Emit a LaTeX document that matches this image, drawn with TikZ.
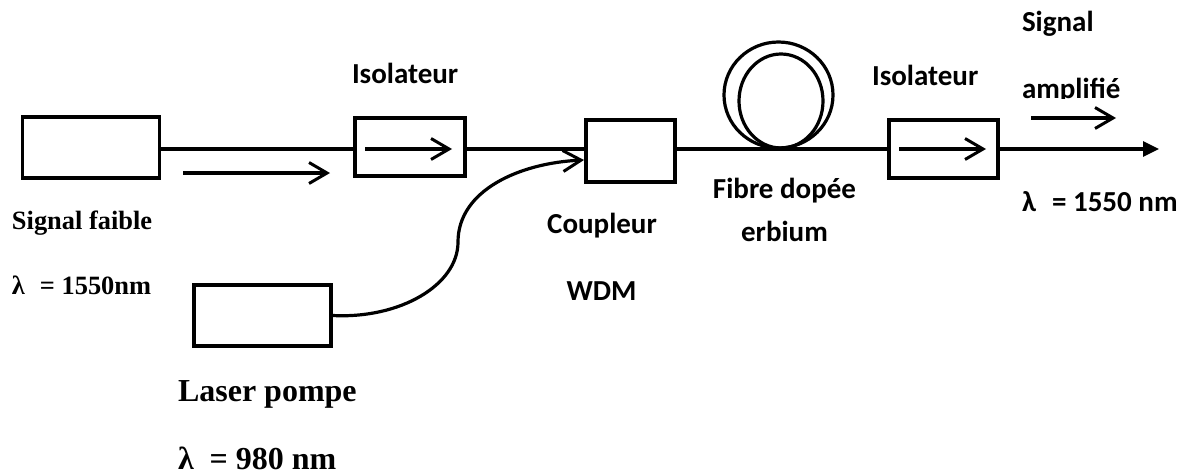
\documentclass[tikz,border=0pt]{standalone}
\usepackage{fontspec}
\setmainfont{Liberation Serif}
\newfontfamily\carlitofont{Carlito}
\usetikzlibrary{arrows.meta, shapes.geometric}

\tikzset{
  block/.style={draw, rectangle, inner sep=0pt},
  coil/.style={draw, ellipse, inner sep=0pt},
  barb/.style={-{Straight Barb[length=18pt,width=21pt,line width=3pt]}},
  label/.style={anchor=base west, inner sep=0pt, outer sep=0pt},
  midlabel/.style={anchor=base, inner sep=0pt, outer sep=0pt},
  calibri/.style={font=\carlitofont\fontsize{29}{34}\selectfont\bfseries},
  timesa/.style={font=\fontsize{26.4}{30}\selectfont\bfseries},
  timesb/.style={font=\fontsize{32}{36}\selectfont\bfseries}
}

\begin{document}
\begin{tikzpicture}[x=1pt,y=-1pt,line width=3.2pt]
    \useasboundingbox (0,0) rectangle (1183,474);

    \coordinate (axis) at (0,149);

    \node[block, minimum width=137, minimum height=61] (signal)  at (91,147.5) {};
    \node[block, minimum width=110, minimum height=58] (iso1)    at (410,147)  {};
    \node[block, minimum width=89,  minimum height=62] (wdm)     at (630.5,151) {};
    \node[block, minimum width=109, minimum height=58] (iso2)    at (943.5,149) {};
    \node[block, minimum width=137, minimum height=61] (pump)    at (262.5,315.5) {};
    \node[coil, minimum width=109, minimum height=106] (coilout) at (778.5,95) {};
    \node[coil, minimum width=84,  minimum height=94]  (coilin)  at (781,101) {};

    \coordinate (out)  at (1159,149);
    \coordinate (fa)   at (183,173);
    \coordinate (fb)   at (330,173);
    \coordinate (ia)   at (365,149);
    \coordinate (ib)   at (452,149);
    \coordinate (ja)   at (899,149);
    \coordinate (jb)   at (986,149);
    \coordinate (ka)   at (1031,118);
    \coordinate (kb)   at (1116,118);
    \coordinate (bend) at (458,242);
    \coordinate (pin)  at (584,160);

    \draw (signal.east |- axis) -- (iso1.west |- axis);
    \draw (iso1.east |- axis) -- (wdm.west |- axis);
    \draw (wdm.east |- axis) -- (iso2.west |- axis);
    \draw[-{Triangle[length=16pt,width=15pt]}] (iso2.east |- axis) -- (out);

    \draw[barb] (fa) -- (fb);
    \draw[barb] (ia) -- (ib);
    \draw[barb] (ja) -- (jb);
    \draw[barb] (ka) -- (kb);

    % pump fibre
    \draw[barb] (pump.east) .. controls (400,319) and (458,285) .. (bend)
                .. controls (458,190) and (520,163) .. (pin);

    \node[calibri, label] (isolabel1) at (352,83) {Isolateur};
    \node[calibri, label] (isolabel2) at (872,85) {Isolateur};
    \node[calibri, label] (ampa) at (1022,31) {Signal};
    \begin{scope}
      \clip (1000,70) rectangle (1183,98.5);
      \node[calibri, label] (ampb) at (1022,98) {amplifié};
    \end{scope}
    \node[calibri, label] (amplam) at (1022,211) {λ\hspace{16pt}= 1550 nm};
    \node[calibri, midlabel] (fibre)  at (784.5,198) {Fibre dopée};
    \node[calibri, midlabel] (erbium) at (784.5,241) {erbium};
    \node[calibri, midlabel] (coupl)  at (602,233) {Coupleur};
    \node[calibri, midlabel] (wdmlab) at (601.5,300.5) {WDM};

    \node[timesa, label] (faible) at (12,229) {Signal faible};
    \node[timesa, label] (lamsig) at (12,294) {λ\hspace{15pt}= 1550nm};
    \node[timesb, label] (laser)  at (178,401) {Laser pompe};
    \node[timesb, label] (lampmp) at (178,469) {λ\hspace{16pt}= 980 nm};
\end{tikzpicture}
\end{document}
